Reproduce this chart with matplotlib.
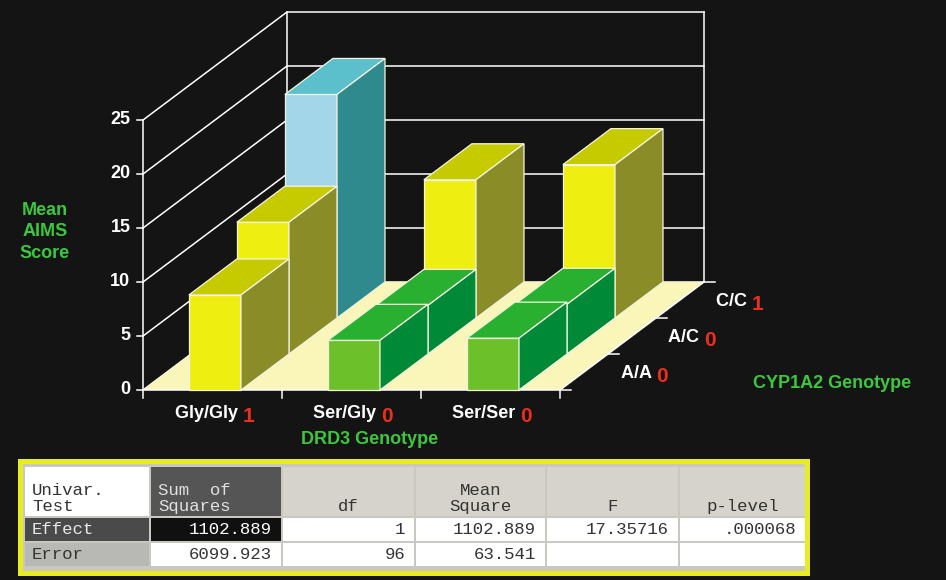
import matplotlib
matplotlib.use("Agg")
import matplotlib.pyplot as plt
from matplotlib.patches import Polygon, Rectangle

# ---- data ----
drd3 = ["Gly/Gly", "Ser/Gly", "Ser/Ser"]
drd3_flag = ["1", "0", "0"]
cyp = ["A/A", "A/C", "C/C"]
cyp_flag = ["0", "0", "1"]
# mean AIMS score, rows = CYP1A2 genotype, cols = DRD3 genotype
scores = [
    [8.8, 4.6, 4.8],    # A/A
    [12.2, 4.5, 4.6],   # A/C
    [20.7, 12.8, 14.2], # C/C
]
colours = [
    ["yellow", "green", "green"],
    ["yellow", "green", "green"],
    ["blue", "yellow", "yellow"],
]
yticks = [0, 5, 10, 15, 20, 25]

table_cols = ["Univar.\nTest", "Sum  of\nSquares", "df", "Mean\nSquare", "F", "p-level"]
table_rows = [
    ["Effect", "1102.889", "1", "1102.889", "17.35716", ".000068"],
    ["Error", "6099.923", "96", "63.541", "", ""],
]

# ---- style ----
BG = "#141414"
GREEN_TXT = "#3cc83c"
RED_TXT = "#e8301c"
shades = {
    "yellow": ("#eeee10", "#c6cb00", "#8a8c28"),
    "green": ("#6cc02a", "#2ab030", "#008a38"),
    "blue": ("#a2d6e8", "#5cbfcc", "#2f8a8e"),
}

W, H = 946, 580
PX_CAT, PX_VAL = 139.0, 10.8      # pixels per category / per score unit
X0, Y0 = 143.0, 390.0            # pixel of front-left origin
DX, DY = 48.0 / PX_CAT, 36.0 / PX_VAL   # oblique offset per depth row (data units)
BAR_OFF, BAR_W = 0.33, 0.375

fig = plt.figure(figsize=(W / 100, H / 100), dpi=100, facecolor=BG)
ax = fig.add_axes([0, 0, 1, 1])
ax.set_xlim(-X0 / PX_CAT, (W - X0) / PX_CAT)
ax.set_ylim((Y0 - H) / PX_VAL, Y0 / PX_VAL)
ax.axis("off")

def P(x, d, v):
    return (x + d * DX, v + d * DY)

ncat, nrow, top = len(drd3), len(cyp), yticks[-1]

# floor
ax.add_patch(Polygon([P(0, 0, 0), P(ncat, 0, 0), P(ncat, nrow, 0), P(0, nrow, 0)],
                     closed=True, fc="#faf5b8", ec="none", zorder=1))
# grid: back wall + left wall
lw = 1.1
for t in yticks:
    a, b, c = P(0, 0, t), P(0, nrow, t), P(ncat, nrow, t)
    ax.plot([a[0], b[0], c[0]], [a[1], b[1], c[1]], color="white", lw=lw, zorder=0.5)
for x in (0, ncat):
    a, b = P(x, nrow, 0), P(x, nrow, top)
    ax.plot([a[0], b[0]], [a[1], b[1]], color="white", lw=lw, zorder=0.5)
# front axes
ax.plot([0, 0], [0, top], color="white", lw=lw, zorder=5)
ax.plot([0, ncat], [0, 0], color="white", lw=lw, zorder=5)
a, b = P(ncat, 0, 0), P(ncat, nrow, 0)
ax.plot([a[0], b[0]], [a[1], b[1]], color="white", lw=lw, zorder=5)
for t in yticks:
    ax.plot([-0.04, 0], [t, t], color="white", lw=lw, zorder=5)
    ax.text(-0.09, t, str(t), color="white", fontsize=13, fontweight="bold",
            ha="right", va="center", family="Liberation Sans")
for i in range(ncat + 1):
    ax.plot([i, i], [0, -0.7], color="white", lw=lw, zorder=5)
for r in range(nrow + 1):
    a = P(ncat, r, 0)
    ax.plot([a[0], a[0] + 0.08], [a[1], a[1]], color="white", lw=lw, zorder=5)

# bars, back rows first
z = 10
for r in reversed(range(nrow)):
    for c in range(ncat):
        v = scores[r][c]
        front, topc, side = shades[colours[r][c]]
        x0, x1 = c + BAR_OFF, c + BAR_OFF + BAR_W
        faces = [
            ([P(x0, r, 0), P(x1, r, 0), P(x1, r, v), P(x0, r, v)], front),
            ([P(x0, r, v), P(x1, r, v), P(x1, r + 1, v), P(x0, r + 1, v)], topc),
            ([P(x1, r, 0), P(x1, r + 1, 0), P(x1, r + 1, v), P(x1, r, v)], side),
        ]
        for pts, col in faces:
            ax.add_patch(Polygon(pts, closed=True, fc=col, ec="#f4f4e0", lw=0.9, zorder=z))
        z += 1

# overlay axes in pixel coords for labels and table
ov = fig.add_axes([0, 0, 1, 1])
ov.set_xlim(0, W)
ov.set_ylim(H, 0)
ov.axis("off")
ov.patch.set_alpha(0)

lab = dict(fontsize=13, fontweight="bold", family="Liberation Sans")
ov.text(45, 232, "Mean\nAIMS\nScore", color=GREEN_TXT, ha="center", va="center",
        linespacing=1.35, **lab)
for i, (name, flag) in enumerate(zip(drd3, drd3_flag)):
    cx = X0 + (i + 0.5) * PX_CAT + 30
    ov.text(cx, 414, name + " ", color="white", ha="right", va="center", **lab)
    ov.text(cx, 416, flag, color=RED_TXT, ha="left", va="center", fontsize=15,
            fontweight="bold", family="Liberation Sans")
ov.text(370, 440, "DRD3 Genotype", color=GREEN_TXT, ha="center", va="center", **lab)
for r, (name, flag) in enumerate(zip(cyp, cyp_flag)):
    px = 656 + r * 48
    py = 374 - r * 36
    ov.text(px, py, name + " ", color="white", ha="right", va="center", **lab)
    ov.text(px, py + 2, flag, color=RED_TXT, ha="left", va="center", fontsize=15,
            fontweight="bold", family="Liberation Sans")
ov.text(832, 384, "CYP1A2 Genotype", color=GREEN_TXT, ha="center", va="center", **lab)

# table
ov.add_patch(Rectangle((18, 459), 792, 117, fc="#e8ec20", ec="none", zorder=1))
ov.add_patch(Rectangle((23, 464), 782, 107, fc="#c8c8c0", ec="none", zorder=1))
xb = [24, 150, 282, 415, 546, 679, 806]
yb = [467, 517, 542, 567]
mono = dict(family="Liberation Mono", fontsize=12.5)
for j in range(len(table_cols)):
    fc = "white" if j == 0 else ("#555555" if j == 1 else "#d6d3cc")
    tc = "#e0e0e0" if j == 1 else "#333333"
    ov.add_patch(Rectangle((xb[j] + 1, yb[0]), xb[j + 1] - xb[j] - 2, yb[1] - yb[0] - 1,
                           fc=fc, ec="none", zorder=2))
    if j <= 1:
        ov.text(xb[j] + 8, yb[1] - 3, table_cols[j], color=tc, ha="left", va="bottom",
                linespacing=1.05, zorder=3, **mono)
    else:
        ov.text((xb[j] + xb[j + 1]) / 2, yb[1] - 3, table_cols[j], color=tc, ha="center",
                va="bottom", linespacing=1.05, zorder=3, **mono)
for i, row in enumerate(table_rows):
    y0, y1 = yb[i + 1], yb[i + 2]
    for j, val in enumerate(row):
        if j == 0:
            fc, tc = ("#4a4a4a", "#e8e8e8") if i == 0 else ("#b8b8b4", "#333333")
        elif i == 0 and j == 1:
            fc, tc = "#101010", "white"
        else:
            fc, tc = "white", "#333333"
        ov.add_patch(Rectangle((xb[j] + 1, y0 + 1), xb[j + 1] - xb[j] - 2, y1 - y0 - 2,
                               fc=fc, ec="none", zorder=2))
        if j == 0:
            ov.text(xb[j] + 8, (y0 + y1) / 2, val, color=tc, ha="left", va="center",
                    zorder=3, **mono)
        else:
            ov.text(xb[j + 1] - 10, (y0 + y1) / 2, val, color=tc, ha="right", va="center",
                    zorder=3, **mono)

fig.savefig("out.png", dpi=100, facecolor=BG)
